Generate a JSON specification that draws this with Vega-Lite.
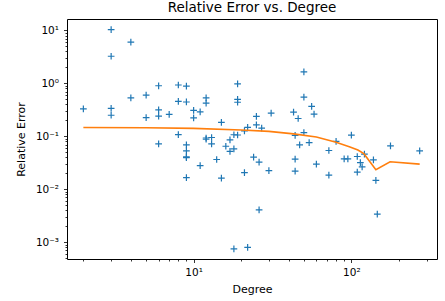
{
  "$schema": "https://vega.github.io/schema/vega-lite/v6.json",
  "width": 370,
  "height": 240,
  "autosize": {"type": "none"},
  "padding": {"left": 67, "top": 19, "right": 8, "bottom": 42},
  "background": "white",
  "title": {"text": "Relative Error vs. Degree", "font": "DejaVu Sans", "fontSize": 13.5, "fontWeight": "normal", "color": "black", "offset": 5},
  "config": {
    "view": {"stroke": "black", "strokeWidth": 1},
    "axis": {
      "domain": false, "grid": false,
      "labelFont": "DejaVu Sans", "labelFontSize": 10.5, "labelColor": "black",
      "titleFont": "DejaVu Sans", "titleFontSize": 11, "titleFontWeight": "normal", "titleColor": "black",
      "tickColor": "black", "tickWidth": 0.8,
      "labelOverlap": false, "labelBound": false, "labelFlush": false
    }
  },
  "layer": [
    {
      "data": {"values": [
        {"degree": 2, "err": 0.33},
        {"degree": 3, "err": 10.3}, {"degree": 3, "err": 3.25}, {"degree": 3, "err": 0.336}, {"degree": 3, "err": 0.25},
        {"degree": 4, "err": 6.0}, {"degree": 4, "err": 0.53},
        {"degree": 5, "err": 0.6}, {"degree": 5, "err": 0.225},
        {"degree": 6, "err": 0.9}, {"degree": 6, "err": 0.317}, {"degree": 6, "err": 0.24}, {"degree": 6, "err": 0.072},
        {"degree": 7, "err": 0.26},
        {"degree": 8, "err": 0.93}, {"degree": 8, "err": 0.455}, {"degree": 8, "err": 0.108},
        {"degree": 9, "err": 0.89}, {"degree": 9, "err": 0.445}, {"degree": 9, "err": 0.069}, {"degree": 9, "err": 0.053}, {"degree": 9, "err": 0.041}, {"degree": 9, "err": 0.0395}, {"degree": 9, "err": 0.0166},
        {"degree": 10, "err": 0.31}, {"degree": 10, "err": 0.222},
        {"degree": 11, "err": 0.29}, {"degree": 11, "err": 0.028},
        {"degree": 12, "err": 0.53}, {"degree": 12, "err": 0.425}, {"degree": 12, "err": 0.093}, {"degree": 12, "err": 0.088},
        {"degree": 13, "err": 0.095}, {"degree": 13, "err": 0.072},
        {"degree": 14, "err": 0.0365},
        {"degree": 15, "err": 0.183}, {"degree": 15, "err": 0.0163},
        {"degree": 16, "err": 0.065},
        {"degree": 17, "err": 0.086}, {"degree": 17, "err": 0.052},
        {"degree": 18, "err": 0.107}, {"degree": 18, "err": 0.058}, {"degree": 18, "err": 0.00075},
        {"degree": 19, "err": 0.98}, {"degree": 19, "err": 0.5}, {"degree": 19, "err": 0.44}, {"degree": 19, "err": 0.106},
        {"degree": 21, "err": 0.127}, {"degree": 21, "err": 0.0207},
        {"degree": 22, "err": 0.147}, {"degree": 22, "err": 0.0008},
        {"degree": 24, "err": 0.0405},
        {"degree": 25, "err": 0.238}, {"degree": 25, "err": 0.165},
        {"degree": 26, "err": 0.0325}, {"degree": 26, "err": 0.0041},
        {"degree": 27, "err": 0.143},
        {"degree": 30, "err": 0.0225},
        {"degree": 31, "err": 0.274},
        {"degree": 43, "err": 0.286}, {"degree": 44, "err": 0.104}, {"degree": 44, "err": 0.037}, {"degree": 44, "err": 0.022},
        {"degree": 46, "err": 0.217},
        {"degree": 47, "err": 0.069},
        {"degree": 50, "err": 1.64}, {"degree": 50, "err": 0.55}, {"degree": 50, "err": 0.117},
        {"degree": 54, "err": 0.076},
        {"degree": 56, "err": 0.366},
        {"degree": 58, "err": 0.263},
        {"degree": 60, "err": 0.0298},
        {"degree": 72, "err": 0.054}, {"degree": 72, "err": 0.0185},
        {"degree": 80, "err": 0.08},
        {"degree": 90, "err": 0.0376}, {"degree": 95, "err": 0.0376},
        {"degree": 100, "err": 0.105},
        {"degree": 109, "err": 0.0416}, {"degree": 109, "err": 0.021},
        {"degree": 114, "err": 0.032},
        {"degree": 117, "err": 0.0265},
        {"degree": 121, "err": 0.046},
        {"degree": 138, "err": 0.036},
        {"degree": 143, "err": 0.0147},
        {"degree": 146, "err": 0.0034},
        {"degree": 177, "err": 0.066},
        {"degree": 271, "err": 0.053}
      ]},
      "mark": {"type": "point", "shape": "M-1,0L1,0M0,-1L0,1", "filled": false, "size": 45, "strokeWidth": 1.2, "color": "#1f77b4", "opacity": 1},
      "encoding": {
        "x": {"field": "degree", "type": "quantitative",
          "scale": {"type": "log", "domain": [1.575, 349], "nice": false, "zero": false},
          "axis": {"title": "Degree", "titlePadding": 5,
            "values": [2,3,4,5,6,7,8,9,10,20,30,40,50,60,70,80,90,100,200,300],
            "labelExpr": "abs(datum.value-10) < 1e-9 ? '10¹' : (abs(datum.value-100) < 1e-9 ? '10²' : '')",
            "tickSize": {"condition": {"test": "abs(log(datum.value)/LN10 - round(log(datum.value)/LN10)) > 1e-6", "value": 2}, "value": 3.5},
            "labelPadding": 5}},
        "y": {"field": "err", "type": "quantitative",
          "scale": {"type": "log", "domain": [0.000483, 16.4], "nice": false, "zero": false},
          "axis": {"title": "Relative Error", "titlePadding": 9,
            "values": [0.0005,0.0006,0.0007,0.0008,0.0009,0.001,0.002,0.003,0.004,0.005,0.006,0.007,0.008,0.009,0.01,0.02,0.03,0.04,0.05,0.06,0.07,0.08,0.09,0.1,0.2,0.3,0.4,0.5,0.6,0.7,0.8,0.9,1,2,3,4,5,6,7,8,9,10],
            "labelExpr": "abs(log(datum.value)/LN10 - round(log(datum.value)/LN10)) > 1e-6 ? '' : (round(log(datum.value)/LN10) == 1 ? '10¹' : round(log(datum.value)/LN10) == 0 ? '10⁰' : round(log(datum.value)/LN10) == -1 ? '10⁻¹' : round(log(datum.value)/LN10) == -2 ? '10⁻²' : '10⁻³')",
            "tickSize": {"condition": {"test": "abs(log(datum.value)/LN10 - round(log(datum.value)/LN10)) > 1e-6", "value": 2}, "value": 3.5},
            "labelPadding": 5}}
      }
    },
    {
      "data": {"values": [
        {"degree": 2, "fit": 0.147},
        {"degree": 5, "fit": 0.145},
        {"degree": 10, "fit": 0.141},
        {"degree": 20, "fit": 0.132},
        {"degree": 30, "fit": 0.124},
        {"degree": 43, "fit": 0.111},
        {"degree": 60, "fit": 0.097},
        {"degree": 80, "fit": 0.077},
        {"degree": 98, "fit": 0.063},
        {"degree": 110, "fit": 0.055},
        {"degree": 120, "fit": 0.047},
        {"degree": 143, "fit": 0.0235},
        {"degree": 176, "fit": 0.033},
        {"degree": 271, "fit": 0.0298}
      ]},
      "mark": {"type": "line", "color": "#ff7f0e", "strokeWidth": 1.6},
      "encoding": {
        "x": {"field": "degree", "type": "quantitative"},
        "y": {"field": "fit", "type": "quantitative"}
      }
    }
  ]
}
